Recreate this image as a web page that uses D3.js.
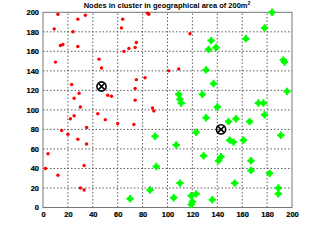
<!DOCTYPE html>
<html>
<head>
<meta charset="utf-8">
<script src="https://cdn.jsdelivr.net/npm/d3@7"></script>
<style>
  body { margin: 0; background: #fff; }
  text { font-family: "Liberation Sans", Arial, sans-serif; font-weight: bold; }
</style>
</head>
<body>
<svg></svg>
<script>
// cluster 1 nodes (red)
let redX = [12,9,28,34,24,14,16,28,10,45,47,23,29,25,30,52,55,44,50,22,25,64,63,65,69,74,75,84,85,75,82,74,74,88,89,101,109,118,
            15,20,28,35,35,60,73,4,2,12,33,30,33]
let redY = [198,183,193,197,180,166,167,165,149,152,143,126,117,112,103,115,114,96,90,91,94,193,184,160,163,164,169,199,198,131,133,122,110,102,99,140,142,178,
            79,75,70,82,65,86,85,55,40,33,43,20,18]

// cluster 2 nodes (green)
let greenX = [184,178,163,135,139,133,193,194,131,137,196,128,109,110,111,173,177,140,178,131,149,155,166,191,123,107,150,153,161,129,143,141,167,167,182,110,154,189,189,123,119,105,136,120,119,90,91,86,70]
let greenY = [200,184,173,171,164,162,151,149,141,127,119,116,116,111,107,107,107,103,95,92,88,91,88,74,77,64,69,67,69,53,52,48,48,38,35,25,25,20,14,14,12,10,8,6,3,73,42,18,9]

// cluster heads
let headX = [47, 143]
let headY = [124, 80]

let ticks = [0,20,40,60,80,100,120,140,160,180,200]

let svg = d3.select('svg').attr('width', 324).attr('height', 243)

let x = d3.scaleLinear().domain([0, 200]).range([43, 292])
let y = d3.scaleLinear().domain([0, 200]).range([207.5, 12.3])

// grid
svg.selectAll('.gx').data(ticks.slice(1, -1)).enter().append('line')
  .attr('x1', d => x(d)).attr('x2', d => x(d))
  .attr('y1', y(0)).attr('y2', y(200))
  .attr('stroke', '#333').attr('stroke-width', 0.8).attr('stroke-dasharray', '1.5,2')
svg.selectAll('.gy').data(ticks.slice(1, -1)).enter().append('line')
  .attr('y1', d => y(d)).attr('y2', d => y(d))
  .attr('x1', x(0)).attr('x2', x(200))
  .attr('stroke', '#333').attr('stroke-width', 0.8).attr('stroke-dasharray', '1.5,2')

// box
svg.append('rect')
  .attr('x', x(0)).attr('y', y(200))
  .attr('width', x(200) - x(0)).attr('height', y(0) - y(200))
  .attr('fill', 'none').attr('stroke', '#777').attr('stroke-width', 1)

// axes
let xAxis = d3.axisBottom(x).tickValues(ticks).tickSize(0).tickPadding(4)
let yAxis = d3.axisLeft(y).tickValues(ticks).tickSize(0).tickPadding(4)
svg.append('g').attr('transform', 'translate(0,' + y(0) + ')').call(xAxis)
  .call(g => g.select('.domain').remove())
  .selectAll('text').attr('font-size', 7.5).attr('fill', '#000')
  .attr('stroke', '#000').attr('stroke-width', 0.2)
svg.append('g').attr('transform', 'translate(' + x(0) + ',0)').call(yAxis)
  .call(g => g.select('.domain').remove())
  .selectAll('text').attr('font-size', 7.5).attr('fill', '#000')
  .attr('stroke', '#000').attr('stroke-width', 0.2)

// red nodes
svg.selectAll('.red').data(redX).enter().append('circle')
  .attr('cx', (d, i) => x(d)).attr('cy', (d, i) => y(redY[i]))
  .attr('r', 1.7).attr('fill', '#ff0000')

// green nodes
let green = svg.selectAll('.green').data(greenX).enter().append('g')
  .attr('transform', (d, i) => 'translate(' + x(d) + ',' + y(greenY[i]) + ')')
green.append('circle').attr('r', 2.6).attr('fill', '#00ff00')
green.append('path').attr('d', 'M-3.7,0H3.7M0,-3.7V3.7')
  .attr('stroke', '#00ff00').attr('stroke-width', 2)

// cluster heads
let head = svg.selectAll('.head').data(headX).enter().append('g')
  .attr('transform', (d, i) => 'translate(' + x(d) + ',' + y(headY[i]) + ')')
head.append('circle').attr('r', 4.6).attr('fill', 'none').attr('stroke', '#000').attr('stroke-width', 1.6)
head.append('path').attr('d', 'M-3.2,-3.2L3.2,3.2M-3.2,3.2L3.2,-3.2')
  .attr('stroke', '#000').attr('stroke-width', 1.6)

// title
let title = svg.append('text').attr('x', 167).attr('y', 8).attr('text-anchor', 'middle')
  .attr('font-size', 7.5).attr('fill', '#000')
title.append('tspan').text('Nodes in cluster in geographical area of 200m')
title.append('tspan').attr('font-size', 5).attr('dy', -3).text('2')
</script>
</body>
</html>
